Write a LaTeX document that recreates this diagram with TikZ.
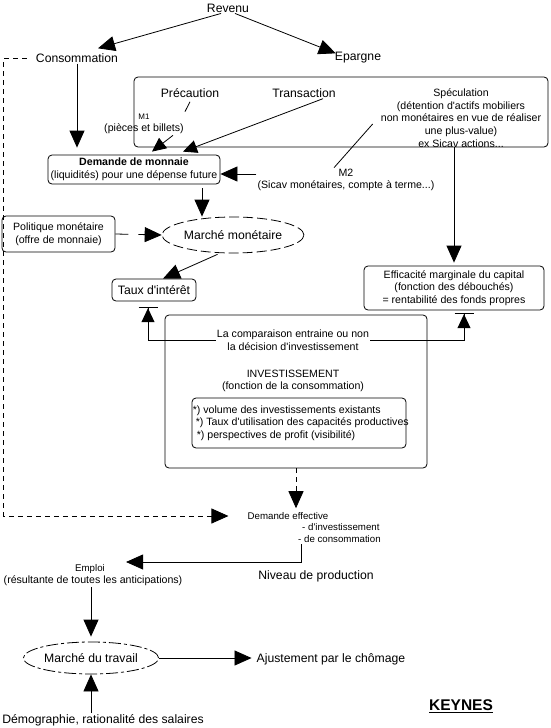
\documentclass[tikz,border=0pt]{standalone}
\usepackage{fontspec}
\setmainfont{Liberation Sans}[Ligatures=TeXOff]
\usetikzlibrary{positioning, shapes.geometric, arrows.meta}
\newcommand{\bigfnt}{\fontsize{12.2pt}{14pt}\selectfont}
\newcommand{\smlfnt}{\fontsize{10.6pt}{12.6pt}\selectfont}
\newcommand{\ftnfnt}{\fontsize{9.7pt}{12.5pt}\selectfont}
\newcommand{\mfnt}{\fontsize{8pt}{9pt}\selectfont}

\begin{document}
\begin{tikzpicture}[x=1pt, y=-1pt,
    big/.style={font=\bigfnt, inner sep=1pt, align=center},
    sml/.style={font=\smlfnt, inner sep=1pt, align=center},
    ftn/.style={font=\ftnfnt, inner sep=1pt},
    rbox/.style={draw, rounded corners=4pt, line width=.8pt, inner sep=0pt},
    mkt/.style={ellipse, draw, line width=.8pt, inner sep=0pt},
    flow/.style={->, line width=.8pt},
    sflow/.style={-{Triangle[length=14pt,width=13pt]}, line width=.8pt},
    lagflow/.style={->, line width=.8pt, dash pattern=on 5pt off 4pt},
    cmpflow/.style={-{Triangle[length=14pt,width=13pt] Bar[width=19pt]}, line width=.8pt},
    >={Triangle[length=17pt,width=15pt]}
]
\useasboundingbox (0,0) rectangle (550,728);

% revenu
\node[big] (rev) at (228,8) {Revenu};
\node[big] (conso) at (77,58) {Consommation};
\node[big] (epar) at (358,58) {Epargne};

% motifs de detention
\node[rbox, minimum width=414pt, minimum height=70pt] (motifs) at (341,112) {};
\node[big] (prec) at (190,93) {Précaution};
\node[big] (trans) at (304,93) {Transaction};
\node[sml] (spec) at (461,118) {Spéculation\\(détention d'actifs mobiliers\\non monétaires en vue de réaliser\\une plus-value)\\ex Sicav actions...};
\node[sml] (m1) at (144,124) {{\mfnt M1}\\(pièces et billets)};

% marche monetaire
\node[rbox, sml, minimum width=172pt, minimum height=29pt] (dmon) at (134,169.5) {\textbf{Demande de monnaie}\\(liquidités) pour une dépense future};
\node[sml] (m2) at (346,180) {M2\\(Sicav monétaires, compte à terme...)};
\node[mkt, big, minimum width=131pt, minimum height=36pt, dash pattern=on 10pt off 4pt] (mmon) at (233,235) {Marché monétaire};
\node[rbox, sml, minimum width=113pt, minimum height=36pt] (pol) at (58.5,234) {Politique monétaire\\(offre de monnaie)};
\node[rbox, big, minimum width=84pt, minimum height=22pt] (taux) at (154,290) {Taux d'intérêt};
\node[rbox, sml, minimum width=180pt, minimum height=44pt] (effic) at (454,288) {Efficacité marginale du capital\\(fonction des débouchés)\\= rentabilité des fonds propres};

% investissement
\node[rbox, minimum width=262pt, minimum height=153pt] (invest) at (296,391.5) {};
\node[sml] (cmp) at (293,340) {La comparaison entraine ou non\\la décision d'investissement};
\node[sml] (invtit) at (293,381) {INVESTISSEMENT\\(fonction de la consommation)};
\node[rbox, minimum width=214pt, minimum height=50pt] (crit) at (299,423) {};
\node[sml, align=left, anchor=west] (crittxt) at (crit.west) {*) volume des investissements existants\\\hspace*{3pt}*) Taux d'utilisation des capacités productives\\\hspace*{4pt}*) perspectives de profit (visibilité)};

% demande effective, emploi
\node[ftn] (deff) at (288,516) {Demande effective};
\node[ftn, align=left, anchor=north west] (dtyp) at (297,522) {\hspace*{4pt}- d'investissement\\- de consommation};
\node[big] (niv) at (316,576) {Niveau de production};
\node[ftn] (empl) at (90,569) {Emploi};
\node[sml] (antic) at (93,581) {(résultante de toutes les anticipations)};
\node[mkt, big, minimum width=130pt, minimum height=32pt, dash pattern=on 12pt off 3pt on 3pt off 3pt] (trav) at (91,658) {Marché du travail};
\node[big] (ajust) at (331,659) {Ajustement par le chômage};
\node[big] (demog) at (103,720) {Démographie, rationalité des salaires};
\node[font=\fontsize{15.5pt}{17pt}\selectfont\bfseries, inner sep=1pt] (keyn) at (461,706) {\underline{KEYNES}};

\coordinate (dmout) at ([xshift=68pt]dmon.south);
\coordinate (m2in) at ([yshift=6pt]m2.west);

% connecteurs
\draw[flow] ([xshift=-7pt]rev.south) -- ([xshift=21pt,yshift=4pt]conso.north);
\draw[flow] ([xshift=7pt]rev.south) -- ([xshift=2pt,yshift=-2pt]epar.north west);
\draw[flow, shorten >=7pt] (conso.south) -- (conso.south |- dmon.north);
\draw[line width=.8pt] ([yshift=-3pt]prec.south) -- ([yshift=1pt]m1.north east);
\draw[sflow] ([xshift=-12pt]m1.south east) -- ([xshift=18pt,yshift=3pt]dmon.north);
\draw[sflow] ([xshift=19pt]trans.south) -- ([xshift=49pt,yshift=3pt]dmon.north);
\draw[line width=.8pt] ([xshift=-7pt,yshift=-6pt]spec.west) -- ([xshift=-12pt]m2.north);
\draw[flow] (m2in) -- (m2in -| dmon.east);
\draw[flow, shorten >=3pt] (effic.north |- motifs.south) -- (effic.north);
\draw[flow, shorten <=4pt] (dmout) -- (dmout |- mmon.north);
\draw[flow, dash pattern=on 13pt off 10pt] (pol.east) -- (mmon.west);
\draw[flow, shorten <=3pt] (mmon.235) -- ([xshift=9pt]taux.north);
\draw[cmpflow] (cmp.west) -| ([xshift=-6pt,yshift=-6pt]taux.south);
\draw[cmpflow] (cmp.east) -| ([xshift=10pt,yshift=-3pt]effic.south);
\draw[lagflow, shorten >=3pt] (invest.south) -- (invest.south |- deff.north);
\draw[lagflow, shorten <=8pt, shorten >=18pt] (conso.west) -- ++(-31,0) |- (deff.west);
\draw[flow] ([xshift=4pt]dtyp.south west) |- ([xshift=20pt,yshift=7pt]empl.east);
\draw[flow, shorten >=5pt] (antic.south -| trav.north) -- (trav.north);
\draw[flow, shorten >=4pt] (trav.east) -- (trav.east -| ajust.west);
\draw[flow] (demog.north -| trav.south) -- (trav.south);
\end{tikzpicture}
\end{document}
